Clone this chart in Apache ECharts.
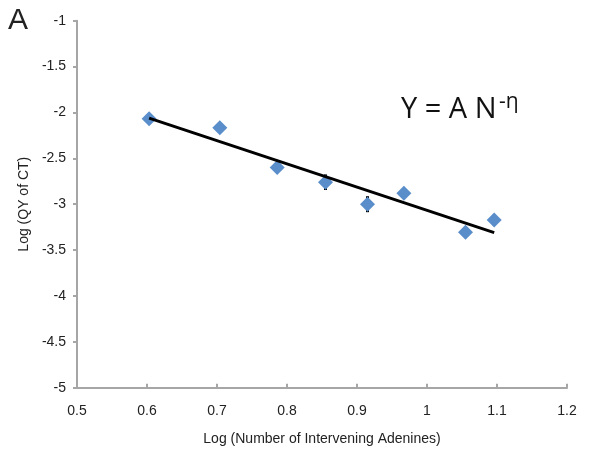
<!DOCTYPE html>
<html><head><meta charset="utf-8">
<script src="https://cdn.jsdelivr.net/npm/echarts@6/dist/echarts.min.js"></script>
<style>html,body{margin:0;padding:0;background:#fff}#c{width:597px;height:461px}</style>
</head><body><div id="c"></div>
<script>
const logN = [0.603, 0.704, 0.786, 0.855, 0.915, 0.967, 1.055, 1.096];
const logQY = [-2.07, -2.167, -2.60, -2.76, -3.00, -2.88, -3.307, -3.173];
const errQY = [0, 0, 0, 0.085, 0.087, 0, 0, 0.06];
const xTicks = [0.5, 0.6, 0.7, 0.8, 0.9, 1, 1.1, 1.2];
const yTicks = [-5, -4.5, -4, -3.5, -3, -2.5, -2, -1.5, -1];

// least-squares trendline (linear in log-log space)
const n = logN.length;
const mx = logN.reduce((a,b)=>a+b,0)/n, my = logQY.reduce((a,b)=>a+b,0)/n;
let sxy=0, sxx=0;
for (let i=0;i<n;i++){ sxy+=(logN[i]-mx)*(logQY[i]-my); sxx+=(logN[i]-mx)**2; }
const slope = sxy/sxx, icpt = my - slope*mx;
const xMin = Math.min(...logN), xMax = Math.max(...logN);
const trend = [[xMin, icpt+slope*xMin],[xMax, icpt+slope*xMax]];

const font = "'Liberation Sans', Arial, sans-serif";
const chart = echarts.init(document.getElementById('c'));
chart.setOption({
  animation: false,
  backgroundColor: '#fff',
  grid: {left: 77, right: 30, top: 20.7, bottom: 73.3},
  xAxis: {
    type: 'value', min: 0.5, max: 1.2, interval: 0.1,
    name: 'Log (Number of Intervening Adenines)', nameLocation: 'middle', nameGap: 44,
    nameTextStyle: {fontFamily: font, fontSize: 14, color: '#222'},
    axisLine: {lineStyle: {color: '#a6a6a6', width: 2}},
    axisTick: {show: true, inside: true, length: 4, lineStyle: {color: '#a6a6a6', width: 2}},
    splitLine: {show: false},
    axisLabel: {fontFamily: font, fontSize: 14, color: '#222', margin: 16,
      formatter: v => String(+v.toFixed(1))}
  },
  yAxis: {
    type: 'value', min: -5, max: -1, interval: 0.5,
    name: 'Log (QY of CT)', nameLocation: 'middle', nameGap: 44, nameRotate: 90,
    nameTextStyle: {fontFamily: font, fontSize: 14, color: '#222'},
    axisLine: {show: true, lineStyle: {color: '#a6a6a6', width: 2}},
    axisTick: {show: true, length: 4, lineStyle: {color: '#a6a6a6', width: 2}},
    splitLine: {show: false},
    axisLabel: {fontFamily: font, fontSize: 14, color: '#222', margin: 11,
      formatter: v => String(+v.toFixed(1))}
  },
  graphic: [
    {type: 'text', left: 8, top: 6, style: {text: 'A', font: "30px 'Liberation Sans', Arial, sans-serif", fill: '#222'}},
    {type: 'text', x: 401, y: 110, style: {text: 'Y = A N', font: "29px 'Open Sans', sans-serif",
      fill: '#111', textAlign: 'left', textVerticalAlign: 'middle'}},
    {type: 'text', x: 499, y: 102, style: {text: '-η', font: "21px 'Open Sans', sans-serif",
      fill: '#111', textAlign: 'left', textVerticalAlign: 'middle'}}
  ],
  series: [
    {
      type: 'custom', z: 1,
      data: logN.map((x,i)=>[x, logQY[i], errQY[i]]),
      renderItem: (params, api) => {
        const e = api.value(2);
        if (!e) return null;
        const p1 = api.coord([api.value(0), api.value(1)-e]);
        const p2 = api.coord([api.value(0), api.value(1)+e]);
        return {type: 'line', shape: {x1: p1[0], y1: p1[1], x2: p2[0], y2: p2[1]},
          style: {stroke: '#000', lineWidth: 3}};
      }
    },
    {
      type: 'scatter', z: 3, symbol: 'diamond', symbolSize: 15,
      data: logN.map((x,i)=>[x, logQY[i]]),
      itemStyle: {color: '#5a8ecb', opacity: 1}
    },
    {
      type: 'line', z: 4, data: trend, symbol: 'none',
      lineStyle: {color: '#000', width: 3}
    }
  ]
});
</script>
</body></html>
